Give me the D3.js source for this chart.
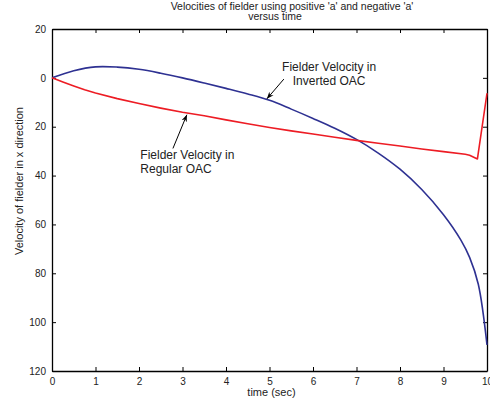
<!DOCTYPE html>
<html>
<head>
<meta charset="utf-8">
<script src="https://cdn.jsdelivr.net/npm/d3@7"></script>
<style>
  body { margin: 0; background: #fff; }
  text { font-family: "Liberation Sans", Arial, sans-serif; fill: #222; }
</style>
</head>
<body>
<div id="chart"></div>
<script>
// data
var timeInverted = [0, 0.5, 1, 1.5, 2, 2.5, 3, 3.5, 4, 4.5, 5, 5.5, 6, 6.5, 7, 7.5, 8, 8.5, 9, 9.4, 9.6, 9.8, 10];
var velInverted  = [0, 2.9, 4.5, 4.4, 3.5, 1.9, 0, -2.1, -4.3, -6.6, -9.2, -12.8, -16.6, -20.6, -25.2, -30.8, -37.4, -45.7, -56, -66.4, -73.5, -84.5, -109.3];

var timeRegular = [0, 0.25, 0.5, 0.75, 1, 1.5, 2, 2.5, 3, 3.5, 4, 4.5, 5, 5.5, 6, 6.5, 7, 7.5, 8, 8.5, 9, 9.5, 9.6, 9.78, 10];
var velRegular  = [0, -1.7, -3.3, -4.9, -6.2, -8.5, -10.5, -12.4, -14.1, -15.5, -17.2, -18.8, -20.3, -21.7, -23.0, -24.3, -25.6, -26.8, -27.9, -29.1, -30.2, -31.3, -31.7, -33.2, -6.3];

var xTicks = [0, 1, 2, 3, 4, 5, 6, 7, 8, 9, 10];
var yTicks = [20, 0, -20, -40, -60, -80, -100, -120];
var yTickLabels = ["20", "0", "20", "40", "60", "80", "100", "120"];

var titleLines = ["Velocities of fielder using positive 'a' and negative 'a'", "versus time"];

var svgWidth = 490, svgHeight = 402;
var margin = { top: 29, right: 3, bottom: 31, left: 52 };
var width = svgWidth - margin.left - margin.right;
var height = svgHeight - margin.top - margin.bottom;

var svg = d3.select("#chart").append("svg")
  .attr("width", svgWidth)
  .attr("height", svgHeight);

var chartGroup = svg.append("g")
  .attr("transform", `translate(${margin.left}, ${margin.top})`);

var x = d3.scaleLinear().domain([0, 10]).range([0, width]);
var y = d3.scaleLinear().domain([-120, 20]).range([height, 0]);

// axes, matlab style: ticks inside on all four sides
var fmtY = function(d) { return yTickLabels[yTicks.indexOf(d)]; };

chartGroup.append("g")
  .attr("transform", `translate(0, ${height})`)
  .call(d3.axisBottom(x).tickValues(xTicks).tickSizeInner(-4).tickSizeOuter(0).tickPadding(7));
chartGroup.append("g")
  .call(d3.axisTop(x).tickValues(xTicks).tickSizeInner(-4).tickSizeOuter(0).tickFormat(""));
chartGroup.append("g")
  .call(d3.axisLeft(y).tickValues(yTicks).tickSizeInner(-4).tickSizeOuter(0).tickPadding(6).tickFormat(fmtY));
chartGroup.append("g")
  .attr("transform", `translate(${width}, 0)`)
  .call(d3.axisRight(y).tickValues(yTicks).tickSizeInner(-4).tickSizeOuter(0).tickFormat(""));

chartGroup.selectAll(".domain").attr("stroke", "#000").attr("stroke-width", 1.3);
chartGroup.selectAll(".tick line").attr("stroke", "#000");
chartGroup.selectAll(".tick text")
  .attr("font-family", "Liberation Sans, Arial, sans-serif")
  .attr("font-size", 10).attr("fill", "#222");

// lines: blue is smooth, red keeps its sharp corner near the end
var smoothLine = d3.line()
  .x(d => x(d[0]))
  .y(d => y(d[1]))
  .curve(d3.curveCatmullRom.alpha(0.5));

var straightLine = d3.line()
  .x(d => x(d[0]))
  .y(d => y(d[1]));

chartGroup.append("path")
  .datum(d3.zip(timeInverted, velInverted))
  .attr("d", smoothLine)
  .attr("fill", "none")
  .attr("stroke", "#2e3192")
  .attr("stroke-width", 1.6);

chartGroup.append("path")
  .datum(d3.zip(timeRegular, velRegular))
  .attr("d", straightLine)
  .attr("fill", "none")
  .attr("stroke", "#ed1c24")
  .attr("stroke-width", 1.6)
  .attr("stroke-linejoin", "round");

// annotations with arrows
svg.append("defs").append("marker")
  .attr("id", "arrow")
  .attr("viewBox", "0 0 10 10")
  .attr("refX", 10).attr("refY", 5)
  .attr("markerWidth", 7).attr("markerHeight", 7)
  .attr("orient", "auto")
  .append("path")
  .attr("d", "M0,1 L10,5 L0,9 L3,5 Z")
  .attr("fill", "#000");

chartGroup.append("line")
  .attr("x1", x(5.33)).attr("y1", y(-0.5))
  .attr("x2", x(4.94)).attr("y2", y(-8.6))
  .attr("stroke", "#000").attr("stroke-width", 1)
  .attr("marker-end", "url(#arrow)");

chartGroup.append("line")
  .attr("x1", x(2.78)).attr("y1", y(-28.9))
  .attr("x2", x(3.1)).attr("y2", y(-15.1))
  .attr("stroke", "#000").attr("stroke-width", 1)
  .attr("marker-end", "url(#arrow)");

var noteInverted = chartGroup.append("text")
  .attr("x", x(6.37)).attr("y", y(2.8))
  .attr("text-anchor", "middle")
  .attr("font-size", 12);
noteInverted.append("tspan").attr("x", x(6.37)).text("Fielder Velocity in");
noteInverted.append("tspan").attr("x", x(6.37)).attr("dy", 14).text("Inverted OAC");

var noteRegular = chartGroup.append("text")
  .attr("x", x(2.03)).attr("y", y(-33.4))
  .attr("text-anchor", "start")
  .attr("font-size", 12);
noteRegular.append("tspan").attr("x", x(2.03)).text("Fielder Velocity in");
noteRegular.append("tspan").attr("x", x(2.03)).attr("dy", 14).text("Regular OAC");

// title and axis labels
svg.append("text")
  .attr("x", 292).attr("y", 9.5)
  .attr("text-anchor", "middle")
  .attr("font-size", 10.5)
  .text(titleLines[0]);
svg.append("text")
  .attr("x", 275).attr("y", 19.5)
  .attr("text-anchor", "middle")
  .attr("font-size", 10.5)
  .text(titleLines[1]);

svg.append("text")
  .attr("x", margin.left + width / 2 + 2).attr("y", 396)
  .attr("text-anchor", "middle")
  .attr("font-size", 11)
  .text("time (sec)");

svg.append("text")
  .attr("transform", "translate(23, 181) rotate(-90)")
  .attr("text-anchor", "middle")
  .attr("font-size", 11)
  .text("Velocity of fielder in x direction");
</script>
</body>
</html>
